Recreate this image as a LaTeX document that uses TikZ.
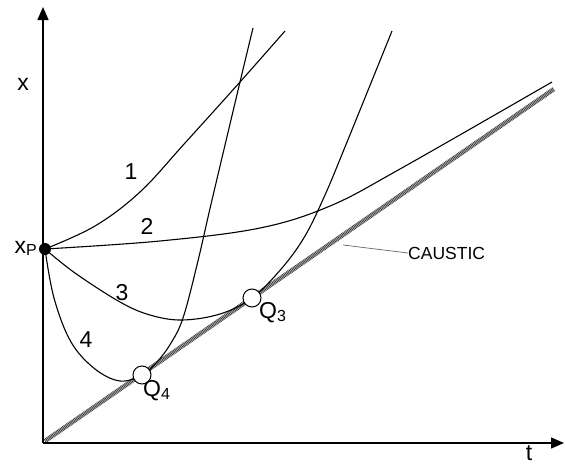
\documentclass[tikz,border=0pt]{standalone}
\usepackage{fontspec}
\setmainfont{Liberation Sans}
\usetikzlibrary{arrows.meta}
\newcommand{\bigf}{\fontsize{23}{25}\selectfont}
\newcommand{\subf}{\fontsize{16}{17}\selectfont}
\tikzset{
  axis/.style={line width=1.4pt, -{Triangle[length=13pt,width=11pt]}},
  curve/.style={line width=1.1pt},
  lbl/.style={inner sep=0pt, font=\bigf},
  qpoint/.style={circle, draw, line width=1pt, fill=white, minimum size=18pt, inner sep=0pt},
}
\begin{document}
\begin{tikzpicture}[x=1pt,y=-1pt]
\useasboundingbox (0,0) rectangle (565,466);
\coordinate (O) at (43,443);
\coordinate (ytop) at (43,7);
\coordinate (xend) at (564,443);
\coordinate (cs) at (45,441);
\coordinate (ce) at (554,89);
% caustic
\draw[line width=4.5pt, gray!45] (cs) -- (ce);
\draw[line width=4.5pt, black!80, dash pattern=on 0.7pt off 0.9pt] (cs) -- (ce);
% axes
\draw[axis] (O) -- (ytop);
\draw[axis] (O) -- (xend);
% point xP
\coordinate (P) at (45,249);
% curves
\draw[curve] plot[smooth, tension=0.6] coordinates {(45,249) (95,226) (140,192) (185,143) (240,82) (285,31)};
\draw[curve] plot[smooth, tension=0.6] coordinates {(45,249) (160,241) (260,228) (330,206) (400,169) (552,82)};
\draw[curve] plot[smooth, tension=0.6] coordinates {(45,249) (75,273) (120,302) (150,315) (182,320) (220,314) (252,298) (282,268) (305,236) (325,195) (345,147) (392,31)};
\draw[curve] plot[smooth, tension=0.6] coordinates {(45,249) (54,298) (71,342) (95,369) (120,381) (142,375) (157,362) (171,343) (183,318) (197,265) (212,200) (240,82) (253,28)};
% points
\node[circle, fill=black, minimum size=12pt, inner sep=0pt] (xp) at (P) {};
\node[qpoint] (q3) at (252,298) {};
\node[qpoint] (q4) at (142,375) {};
% caustic leader
\coordinate (cl) at (343,245);
\node[inner sep=0pt, font=\fontsize{17.5}{19}\selectfont, anchor=west] (caustic) at (408,253) {CAUSTIC};
\draw[gray!80!black, line width=0.7pt] (caustic.west) -- (cl);
% labels
\node[lbl] (xl) at (23,84) {x};
\node[lbl] (tl) at (529,453) {t};
\node[lbl, anchor=east] (xpl) at (37,248) {x\raisebox{-2pt}{\subf P}};
\node[lbl] (l1) at (131,172) {1};
\node[lbl] (l2) at (147,226) {2};
\node[lbl] (l3) at (122,293) {3};
\node[lbl] (l4) at (86,340) {4};
\node[lbl, anchor=west] (q3l) at (259,313) {Q\raisebox{-3pt}{\subf 3}};
\node[lbl, anchor=west] (q4l) at (143,391) {Q\raisebox{-3pt}{\subf 4}};
\end{tikzpicture}
\end{document}
